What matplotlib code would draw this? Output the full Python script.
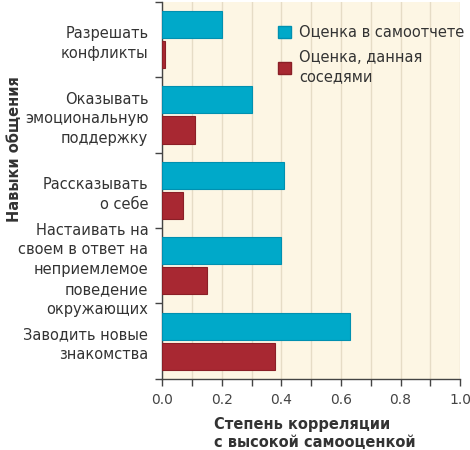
import matplotlib.pyplot as plt
import matplotlib.ticker as ticker
import numpy as np
from matplotlib.patches import Patch
from matplotlib import rcParams

rcParams["font.family"] = ["DejaVu Sans"]

skills = [
    "Разрешать\nконфликты",
    "Оказывать\nэмоциональную\nподдержку",
    "Рассказывать\nо себе",
    "Настаивать на\nсвоем в ответ на\nнеприемлемое\nповедение\nокружающих",
    "Заводить новые\nзнакомства",
]
self_report = [0.20, 0.30, 0.41, 0.40, 0.63]
neighbours = [0.01, 0.11, 0.07, 0.15, 0.38]
series_names = ["Оценка в самоотчете", "Оценка, данная\nсоседями"]

blue = "#00a9c9"
red = "#a82832"
txt = "#333333"

fig = plt.figure(figsize=(4.7, 4.5), dpi=100)
ax = fig.add_axes([0.345, 0.158, 0.634, 0.838])
ax.set_facecolor("#fdf6e4")

y = np.arange(len(skills))
ax.barh(y - 0.2, self_report, height=0.36, color=blue, edgecolor="#0090b0", linewidth=0.8, zorder=3)
ax.barh(y + 0.2, neighbours, height=0.36, color=red, edgecolor="#8a1f27", linewidth=0.8, zorder=3)

ax.set_xlim(0, 1.0)
ax.set_ylim(len(skills) - 0.5, -0.5)

# x ticks: small every 0.1, labels every 0.2
ax.xaxis.set_major_locator(ticker.MultipleLocator(0.2))
ax.xaxis.set_minor_locator(ticker.MultipleLocator(0.1))
ax.xaxis.set_major_formatter(ticker.FormatStrFormatter("%.1f"))
ax.tick_params(axis="x", which="both", length=5, width=1, color="#444444",
               labelsize=10, labelcolor="#444444", pad=5)
ax.grid(axis="x", which="both", color="#e6dcc6", linewidth=1, zorder=0)

# y ticks: marks at the group borders, labels at the centres
ax.set_yticks(np.arange(len(skills) + 1) - 0.5)
ax.set_yticklabels([])
ax.set_yticks(y, minor=True)
ax.set_yticklabels(skills, minor=True, fontsize=10.5, color=txt, linespacing=1.4)
ax.tick_params(axis="y", which="major", length=5, width=1, color="#444444")
ax.tick_params(axis="y", which="minor", length=0, pad=10)

for s in ["top", "right"]:
    ax.spines[s].set_visible(False)
for s in ["left", "bottom"]:
    ax.spines[s].set_color("#444444")
    ax.spines[s].set_linewidth(1)

ax.set_ylabel("Навыки общения", fontsize=10.5, fontweight="bold", color=txt)
ax.yaxis.set_label_coords(-0.47, 0.61)
ax.set_xlabel("Степень корреляции\nс высокой самооценкой", fontsize=10.5,
              fontweight="bold", color=txt, ha="left", linespacing=1.3)
ax.xaxis.set_label_coords(0.175, -0.1)
ax.xaxis.label.set_va("top")

handles = [Patch(facecolor=blue, edgecolor="#0090b0"),
           Patch(facecolor=red, edgecolor="#8a1f27")]
leg = ax.legend(handles, series_names, loc="upper left", bbox_to_anchor=(0.37, 0.955),
                frameon=False, fontsize=10.5, handlelength=0.9, handleheight=0.9,
                handletextpad=0.55, labelspacing=0.7, borderaxespad=0)
for t in leg.get_texts():
    t.set_color(txt)
    t.set_linespacing(1.35)

fig.savefig("out.png", dpi=100)
